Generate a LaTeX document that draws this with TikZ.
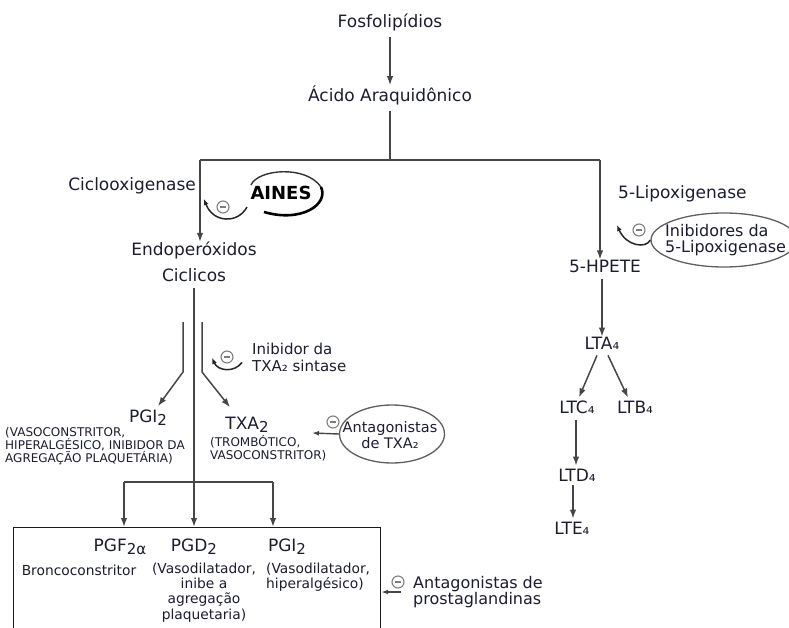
\documentclass[tikz,border=0pt]{standalone}
\usepackage{fontspec}
\setmainfont{DejaVu Sans}
\usetikzlibrary{arrows.meta,shapes.geometric,calc}
\definecolor{txt}{RGB}{28,28,50}
\definecolor{lnc}{RGB}{70,70,70}
\definecolor{mg}{RGB}{125,125,125}
\definecolor{elc}{RGB}{95,95,95}
\newcommand{\lowsub}[1]{\raisebox{-0.3ex}{\fontsize{15}{15}\selectfont #1}}
\begin{document}
\begin{tikzpicture}[x=1pt,y=-1pt,
  lbl/.style={text=txt,font=\fontsize{17}{20}\selectfont,inner sep=0pt},
  sml/.style={text=txt,font=\fontsize{12}{13}\selectfont,inner sep=0pt,align=left},
  mid/.style={text=txt,font=\fontsize{13.8}{15.3}\selectfont,inner sep=0pt},
  med/.style={text=txt,font=\fontsize{15.5}{16.5}\selectfont,inner sep=0pt,align=left},
  plain/.style={draw=lnc,line width=1.5pt},
  arr/.style={draw=lnc,line width=1.5pt,-{Latex[length=9pt,width=6.5pt]}},
  arrs/.style={draw=lnc,line width=1.4pt,-{Latex[length=7pt,width=5pt]}},
  inh/.style={draw=black!85,line width=1.5pt,-{Latex[length=6pt,width=5pt]}},
  elli/.style={ellipse,draw=elc,line width=1.3pt,inner sep=0pt},
  minus/.style={circle,draw=mg,line width=1.1pt,minimum size=12pt,inner sep=0pt,
    path picture={\draw[mg,line width=1.1pt] ([xshift=3pt]path picture bounding box.west) -- ([xshift=-3pt]path picture bounding box.east);}}
]
\useasboundingbox (0,0) rectangle (789,628);

% top
\node[lbl] (fosfo) at (390,22) {Fosfolipídios};
\node[lbl] (acido) at (390,95) {Ácido Araquidônico};
\draw[arr] ($(fosfo.south)+(0,6)$) -- (acido.north);
\coordinate (j0) at (390,160);
\coordinate (jl) at (200,160);
\coordinate (jr) at (600,160);
\draw[plain] ($(acido.south)+(0,6)$) -- (j0);
\draw[plain] (jl) -- (jr);

% cyclooxygenase branch
\node[lbl,anchor=east] (ciclo) at (196,186) {Ciclooxigenase};
\node[lbl,align=center,font=\fontsize{17}{26}\selectfont] (endo) at (194,262) {Endoperóxidos\\Ciclicos};
\draw[arr] (jl) -- (jl |- endo.north);

% AINES
\node[font=\bfseries\fontsize{18}{18}\selectfont,text=black,inner sep=0pt] (aines) at (281,193) {AINES};
\draw[black!80,line width=1.4pt] (251,185) .. controls (258,169) and (306,165) .. (321,187);
\draw[black,line width=2.6pt] (321,187) .. controls (329,204) and (302,223) .. (264,212);
\node[minus] (m1) at (223,207) {};
\coordinate (i1s) at (247,207);
\coordinate (i1e) at (204,199);
\draw[inh] (i1s) .. controls (238,224) and (213,223) .. (i1e);

% lipoxygenase branch
\node[lbl,anchor=west] (lipox) at (618,194) {5-Lipoxigenase};
\node[lbl] (hpete) at (605,266) {5-HPETE};
\draw[arr] (jr) -- (jr |- hpete.north);
\node[elli,minimum width=146pt,minimum height=54pt] (el2) at (724,240) {};
\node[med,font=\fontsize{16}{16.5}\selectfont,anchor=west] (el2t) at (665,240) {Inibidores da\\5-Lipoxigenase};
\node[minus] (m3) at (639,230) {};
\coordinate (i3) at (617,225);
\draw[inh] (el2.west) .. controls (646,249) and (626,246) .. (i3);

% leukotrienes
\node[lbl] (lta) at (602,343) {LTA₄};
\node[lbl] (ltc) at (577,407) {LTC₄};
\node[lbl] (ltb) at (635,407) {LTB₄};
\node[lbl] (ltd) at (577,475) {LTD₄};
\node[lbl] (lte) at (572,528) {LTE₄};
\draw[arr] ($(hpete.south -| lta.north)+(0,6)$) -- (lta.north);
\draw[arr] ($(lta.south)+(-5,6)$) -- ($(ltc.north)+(2,-3)$);
\draw[arr] ($(lta.south)+(6,6)$) -- ($(ltb.north)+(-7,-3)$);
\draw[arr] ($(ltc.south)+(-1,6)$) -- ($(ltd.north)+(-1,-3)$);
\draw[arr] ($(ltd.south)+(-4,4)$) -- ($(lte.north)+(1,-3)$);

% PGI2 / TXA2 split
\coordinate (bl1) at (183,322);
\coordinate (bl2) at (183,372);
\coordinate (br1) at (202,322);
\coordinate (br2) at (202,372);
\coordinate (hs) at (194,482);
\draw[plain] ($(endo.south)+(0,6)$) -- (hs);
\node[lbl] (pgi) at (148,418) {PGI\lowsub{2}};
\node[lbl] (txa) at (247,425) {TXA\lowsub{2}};
\draw[arr] (bl1) -- (bl2) -- ($(pgi.north)+(10,-4)$);
\draw[arr] (br1) -- (br2) -- ($(txa.north)+(-17,-10)$);
\node[sml,anchor=west] (pgid) at (5,446) {(VASOCONSTRITOR,\\HIPERALGÉSICO, INIBIDOR DA\\AGREGAÇÃO PLAQUETÁRIA)};
\node[sml,anchor=west] (txad) at (210,448) {(TROMBÓTICO,\\VASOCONSTRITOR)};

% TXA2 synthase inhibitor
\node[med,font=\fontsize{15}{17}\selectfont,anchor=west] (itx) at (252,357.5) {Inibidor da\\TXA₂ sintase};
\node[minus] (m2) at (227,357) {};
\coordinate (i2) at (212,358);
\draw[inh] ($(itx.west)+(-10,5)$) .. controls (234,373) and (218,371) .. (i2);

% TXA2 antagonists
\node[elli,minimum width=105pt,minimum height=58pt] (el1) at (392,434) {};
\node[text=txt,font=\fontsize{14.5}{16}\selectfont,inner sep=0pt,align=center] (el1t) at (390,435) {Antagonistas\\de TXA₂};
\node[minus] (m4) at (333,422) {};
\coordinate (tA) at (312,433);
\draw[arrs] (el1.west) -- (tA);

% prostaglandins
\coordinate (hl) at (124,482);
\coordinate (hr) at (273,482);
\draw[plain] (hl) -- (hr);
\node[draw=black!90,line width=1.2pt,minimum width=367pt,minimum height=130pt,anchor=north west,inner sep=0pt] (box) at (13,527) {};
\draw[arr] (hl) -- (hl |- box.north);
\draw[arr] (hs) -- (hs |- box.north);
\draw[arr] (hr) -- (hr |- box.north);
\node[lbl] (pgf) at (120,547) {PGF\lowsub{2α}};
\node[lbl] (pgd) at (194,547) {PGD\lowsub{2}};
\node[lbl] (pgib) at (287,547) {PGI\lowsub{2}};
\node[mid] (bron) at (79,570) {Broncoconstritor};
\node[mid,align=center] (pgdd) at (204,592.5) {(Vasodilatador,\\inibe a\\agregação\\plaquetaria)};
\node[mid,anchor=west,align=left] (pgibd) at (266,577.5) {(Vasodilatador,\\hiperalgésico)};
\node[med,font=\fontsize{16}{16}\selectfont,anchor=west] (aprost) at (413,592) {Antagonistas de\\prostaglandinas};
\node[minus] (m5) at (398,582) {};
\draw[arrs] ($(aprost.west)+(-12,0)$) -- (box.east |- aprost.west);
\end{tikzpicture}
\end{document}
